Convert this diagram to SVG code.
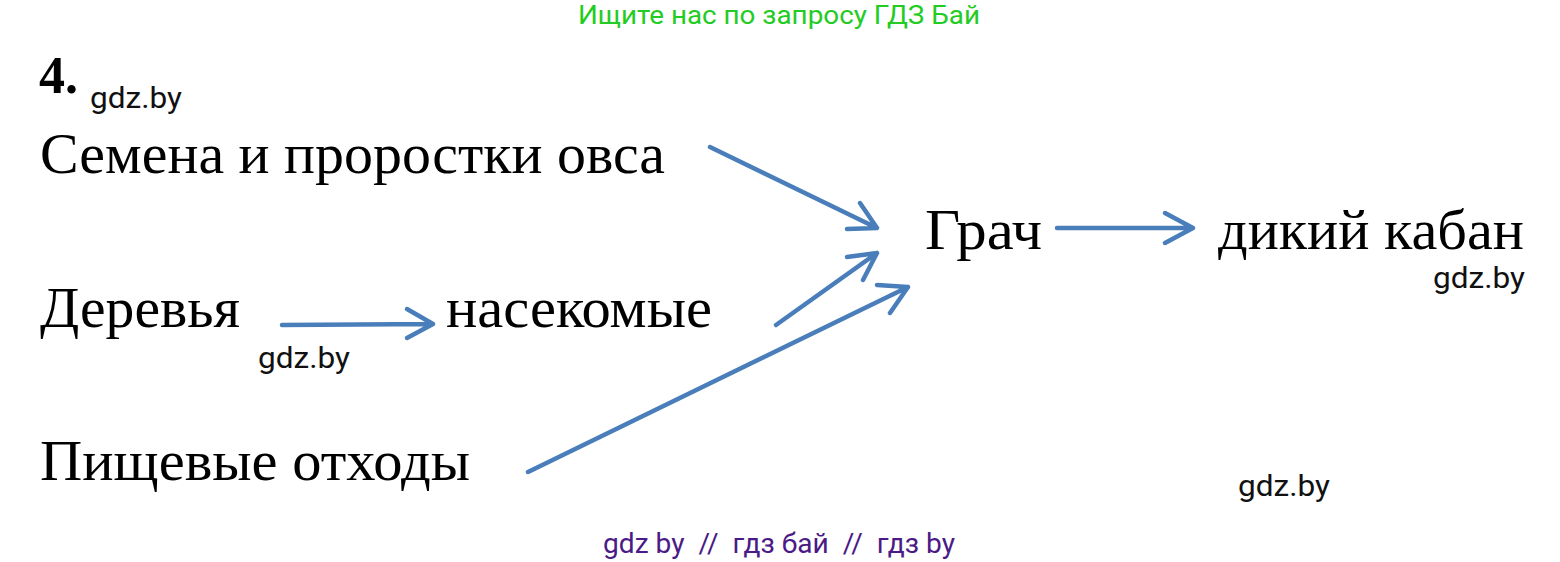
<svg xmlns="http://www.w3.org/2000/svg" width="1560" height="562" viewBox="0 0 1560 562">
<style>
.t{font-family:"Liberation Serif","Times New Roman",serif;font-size:58px;fill:#000}
.w{font-family:Roboto,"Liberation Sans",sans-serif;font-size:30px;fill:#111}
.a{stroke:#4a7ebb;stroke-width:4.5;fill:none;stroke-linecap:round;stroke-linejoin:round}
</style>
<rect width="1560" height="562" fill="#fff"/>
<text x="578" y="24" textLength="402" lengthAdjust="spacingAndGlyphs" style="font-family:Roboto,'Liberation Sans',sans-serif;font-size:25px;fill:#22cc22">Ищите нас по запросу ГДЗ Бай</text>
<text x="39" y="93" style="font-family:'Liberation Serif',serif;font-size:52px;font-weight:bold">4.</text>
<text class="w" x="90" y="108" textLength="92" lengthAdjust="spacingAndGlyphs">gdz.by</text>
<g id="n1"><text class="t" x="40" y="173" textLength="625" lengthAdjust="spacingAndGlyphs">Семена и проростки овса</text></g>
<g id="n2"><text class="t" x="925" y="249" textLength="117" lengthAdjust="spacingAndGlyphs">Грач</text></g>
<g id="n3"><text class="t" x="1218" y="249" textLength="306" lengthAdjust="spacingAndGlyphs">дикий кабан</text></g>
<g id="n4"><text class="t" x="40" y="327" textLength="200" lengthAdjust="spacingAndGlyphs">Деревья</text></g>
<g id="n5"><text class="t" x="446" y="327" textLength="266" lengthAdjust="spacingAndGlyphs">насекомые</text></g>
<g id="n6"><text class="t" x="40" y="480" textLength="430" lengthAdjust="spacingAndGlyphs">Пищевые отходы</text></g>
<text class="w" x="258" y="368" textLength="92" lengthAdjust="spacingAndGlyphs">gdz.by</text>
<text class="w" x="1433" y="288" textLength="92" lengthAdjust="spacingAndGlyphs">gdz.by</text>
<text class="w" x="1238" y="496" textLength="92" lengthAdjust="spacingAndGlyphs">gdz.by</text>
<g id="connectors" class="a">
<path d="M710,147 L877,228 M847,229 L877,228 L860,203"/>
<path d="M776,325 L877,253 M847,257 L877,253 L863,280"/>
<path d="M528,472 L908,287 M877,285 L908,287 L890,313"/>
<path d="M1057,228 L1193,228 M1165,213 L1193,228 L1165,243"/>
<path d="M282,325 L433,324 M407,309 L433,324 L407,338"/>
</g>
<text x="603" y="553" textLength="352" lengthAdjust="spacingAndGlyphs" style="font-family:Roboto,'Liberation Sans',sans-serif;font-size:27px;fill:#4b1a86" xml:space="preserve">gdz by  //  гдз бай  //  гдз by</text>
</svg>
